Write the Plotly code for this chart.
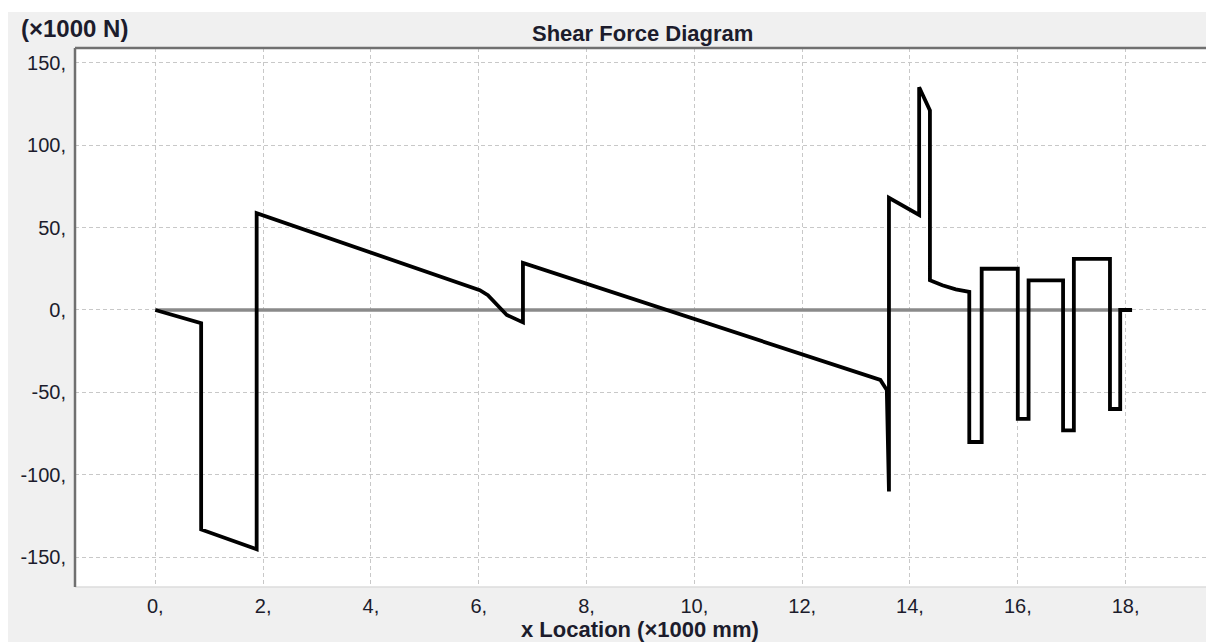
import plotly.graph_objects as go

# Shear force data: x location (x1000 mm), shear (x1000 N)
x_loc = [0, 0.85, 0.85, 1.88, 1.88, 6.02, 6.17, 6.40, 6.52, 6.82, 6.82,
         13.45, 13.57, 13.61, 13.61, 14.17, 14.17, 14.37, 14.37, 14.60, 14.85, 15.10,
         15.10, 15.33, 15.33, 16.00, 16.00, 16.20, 16.20, 16.84, 16.84, 17.04,
         17.04, 17.71, 17.71, 17.90, 17.90, 18.12]
shear = [0, -8, -133, -145, 58.7, 12, 9, 1, -3, -7.5, 28.5,
         -42.4, -48.5, -110, 68, 57.6, 135, 121, 18, 15, 12.5, 11,
         -80, -80, 25, 25, -66, -66, 18, 18, -73, -73,
         31, 31, -60, -60, 0, 0]

baseline_x = [0, 18.1]
baseline_y = [0, 0]

x_ticks = [0, 2, 4, 6, 8, 10, 12, 14, 16, 18]
x_tick_text = ["0,", "2,", "4,", "6,", "8,", "10,", "12,", "14,", "16,", "18,"]
y_ticks = [-150, -100, -50, 0, 50, 100, 150]
y_tick_text = ["-150,", "-100,", "-50,", "0,", "50,", "100,", "150,"]

chart_title = "Shear Force Diagram"
x_title = "x Location (×1000 mm)"
y_unit = "(×1000 N)"

OFF = 8  # page body margin
W, H = 1214 - OFF, 642 - OFF
L, R, T, B = 75 - OFF, 7, 48 - OFF, 55
pw, ph = W - L - R, H - T - B


def px2paper_x(px):
    return (px - OFF - L) / pw


def px2paper_y(py):
    return (H - B - (py - OFF)) / ph


txt_color = "#1c1c2c"
font_fam = "Liberation Sans, Arial, sans-serif"

fig = go.Figure()
fig.add_trace(go.Scatter(x=baseline_x, y=baseline_y, mode="lines",
                         line=dict(color="#8a8a8a", width=3.5),
                         hoverinfo="skip", showlegend=False))
fig.add_trace(go.Scatter(x=x_loc, y=shear, mode="lines",
                         line=dict(color="#000000", width=3.8),
                         showlegend=False))

grid_col = "#c8c8c8"
fig.update_xaxes(range=[-1.49, 19.51], tickvals=x_ticks, ticktext=x_tick_text,
                 showgrid=True, gridcolor=grid_col, griddash="4px,3px", gridwidth=1,
                 zeroline=False, showline=False, ticks="",
                 ticklabelstandoff=5,
                 tickfont=dict(family=font_fam, size=20, color=txt_color))
fig.update_yaxes(range=[-167.9, 158.8], tickvals=y_ticks, ticktext=y_tick_text,
                 showgrid=True, gridcolor=grid_col, griddash="4px,3px", gridwidth=1,
                 zeroline=False, showline=False, ticks="",
                 ticklabelstandoff=8,
                 tickfont=dict(family=font_fam, size=20, color=txt_color))

shapes = [
    # white page strip above grey panel
    dict(type="rect", xref="paper", yref="paper",
         x0=px2paper_x(0), x1=px2paper_x(1300), y0=px2paper_y(12), y1=px2paper_y(0),
         fillcolor="white", line=dict(width=0), layer="above"),
    # plot border (sunken look)
    dict(type="line", xref="paper", yref="paper", x0=0, x1=1, y0=0, y1=0,
         line=dict(color="#dcdcdc", width=1.5), layer="above"),
    dict(type="line", xref="paper", yref="paper", x0=1, x1=1, y0=0, y1=1,
         line=dict(color="#dcdcdc", width=1.5), layer="above"),
    dict(type="line", xref="paper", yref="paper", x0=0, x1=1, y0=1, y1=1,
         line=dict(color="#707070", width=2.5), layer="above"),
    dict(type="line", xref="paper", yref="paper", x0=0, x1=0, y0=0, y1=1,
         line=dict(color="#707070", width=2.5), layer="above"),
]

annotations = [
    dict(text="<b>" + chart_title + "</b>", xref="paper", yref="paper",
         x=px2paper_x(642), y=px2paper_y(34), xanchor="center", yanchor="middle",
         showarrow=False, font=dict(family=font_fam, size=22, color=txt_color)),
    dict(text="<b>" + y_unit + "</b>", xref="paper", yref="paper",
         x=px2paper_x(19), y=px2paper_y(28), xanchor="left", yanchor="middle",
         showarrow=False, font=dict(family=font_fam, size=24, color=txt_color)),
    dict(text="<b>" + x_title + "</b>", xref="paper", yref="paper",
         x=px2paper_x(640), y=px2paper_y(629), xanchor="center", yanchor="middle",
         showarrow=False, font=dict(family=font_fam, size=22, color=txt_color)),
]

fig.update_layout(width=W, height=H, margin=dict(l=L, r=R, t=T, b=B, pad=0),
                  paper_bgcolor="#f0f0f0", plot_bgcolor="white",
                  shapes=shapes, annotations=annotations, showlegend=False)

fig.write_html("out.html")
